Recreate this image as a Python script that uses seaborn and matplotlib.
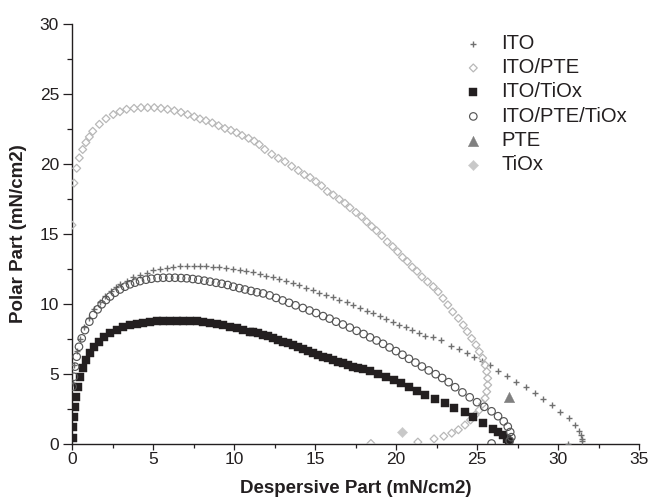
import matplotlib
matplotlib.use("Agg")
from matplotlib import pyplot as plt
from matplotlib.ticker import MultipleLocator
import seaborn as sns

sns.set_style("ticks")
plt.rcParams['font.family'] = ['Liberation Sans', 'DejaVu Sans']

# points (dispersive, polar), mN/cm2
ito = [(0.04, 4.3), (0.15, 5.6), (0.3, 6.6), (0.5, 7.5), (0.75, 8.3), (1.05, 9.0),
       (1.35, 9.6), (1.7, 10.1), (2.05, 10.55), (2.4, 10.9), (2.7, 11.15),
       (2.96, 11.37), (3.37, 11.6), (3.78, 11.86), (4.2, 12.05), (4.6, 12.2),
       (5.0, 12.38), (5.43, 12.48), (5.85, 12.57), (6.25, 12.62), (6.67, 12.67),
       (7.08, 12.7), (7.5, 12.7), (7.9, 12.7), (8.3, 12.67), (8.7, 12.64),
       (9.1, 12.58), (9.5, 12.53), (9.93, 12.48), (10.34, 12.4), (10.75, 12.34),
       (11.2, 12.22), (11.6, 12.1), (12.0, 11.98), (12.4, 11.86), (12.8, 11.73),
       (13.2, 11.62), (13.62, 11.45), (14.04, 11.3), (14.45, 11.14), (14.86, 10.97),
       (15.27, 10.78), (15.7, 10.6), (16.1, 10.44), (16.5, 10.25), (16.95, 10.08),
       (17.36, 9.9), (17.78, 9.67), (18.2, 9.48), (18.6, 9.3), (19.0, 9.1),
       (19.4, 8.9), (19.8, 8.7), (20.2, 8.5), (20.6, 8.3), (21.0, 8.12),
       (21.4, 7.9), (21.8, 7.7), (22.3, 7.58), (22.8, 7.36), (23.4, 7.0),
       (23.9, 6.75), (24.4, 6.45), (24.8, 6.17), (25.3, 5.9), (25.8, 5.58),
       (26.3, 5.17), (26.85, 4.8), (27.4, 4.4), (28.0, 4.04), (28.56, 3.64),
       (29.1, 3.2), (29.6, 2.76), (30.1, 2.26), (30.7, 1.79), (31.05, 1.3),
       (31.3, 0.9), (31.45, 0.6), (31.5, 0.35), (31.5, 0.15), (30.6, 0.0)]

ito_pte = [(0.0, 15.6), (0.12, 18.6), (0.29, 19.66), (0.45, 20.4), (0.66, 21.0),
           (0.86, 21.5), (1.07, 21.9), (1.28, 22.3), (1.69, 22.8), (2.1, 23.2),
           (2.55, 23.5), (2.96, 23.7), (3.37, 23.87), (3.83, 23.94), (4.26, 23.99),
           (4.67, 23.99), (5.08, 23.99), (5.49, 23.94), (5.9, 23.87), (6.32, 23.77),
           (6.73, 23.65), (7.14, 23.5), (7.55, 23.34), (7.9, 23.18), (8.27, 23.06),
           (8.66, 22.9), (9.05, 22.7), (9.44, 22.5), (9.81, 22.37), (10.16, 22.2),
           (10.5, 22.0), (10.9, 21.8), (11.25, 21.6), (11.56, 21.35), (11.9, 21.0),
           (12.33, 20.66), (12.74, 20.37), (13.15, 20.13), (13.56, 19.8), (13.97, 19.5),
           (14.34, 19.2), (14.7, 19.0), (15.06, 18.7), (15.41, 18.4), (15.76, 18.0),
           (16.13, 17.75), (16.5, 17.44), (16.85, 17.16), (17.16, 16.84), (17.53, 16.5),
           (17.88, 16.2), (18.19, 15.84), (18.5, 15.5), (18.8, 15.2), (19.12, 14.84),
           (19.46, 14.4), (19.8, 14.06), (20.1, 13.7), (20.4, 13.3), (20.7, 13.0),
           (21.0, 12.6), (21.3, 12.3), (21.6, 11.9), (21.95, 11.55), (22.3, 11.2),
           (22.6, 10.84), (22.9, 10.37), (23.2, 9.9), (23.5, 9.4), (23.85, 8.94),
           (24.15, 8.46), (24.4, 7.99), (24.67, 7.5), (24.94, 7.04), (25.14, 6.56),
           (25.35, 6.1), (25.5, 5.6), (25.6, 5.13), (25.66, 4.66), (25.66, 4.18),
           (25.6, 3.7), (25.5, 3.23), (25.35, 2.82), (25.14, 2.39), (24.88, 2.03),
           (24.6, 1.68), (24.26, 1.32), (23.85, 0.98), (23.44, 0.74), (22.95, 0.52),
           (22.35, 0.33), (21.35, 0.1), (18.45, 0.0)]

ito_tiox = [(0.04, 0.37), (0.08, 1.2), (0.12, 1.91), (0.19, 2.63), (0.25, 3.34),
            (0.35, 4.06), (0.49, 4.77), (0.66, 5.37), (0.86, 5.96), (1.11, 6.49),
            (1.38, 6.91), (1.69, 7.27), (2.0, 7.59), (2.35, 7.87), (2.76, 8.1),
            (3.17, 8.3), (3.58, 8.44), (3.99, 8.56), (4.4, 8.63), (4.81, 8.68),
            (5.23, 8.73), (5.64, 8.75), (6.05, 8.77), (6.46, 8.77), (6.87, 8.77),
            (7.28, 8.75), (7.7, 8.73), (8.1, 8.68), (8.52, 8.6), (8.93, 8.54),
            (9.34, 8.44), (9.75, 8.34), (10.16, 8.23), (10.57, 8.1), (10.99, 7.98),
            (11.19, 7.95), (11.5, 7.87), (11.81, 7.77), (12.12, 7.65), (12.43, 7.51),
            (12.74, 7.39), (13.05, 7.27), (13.35, 7.15), (13.66, 7.03), (13.97, 6.89),
            (14.28, 6.75), (14.59, 6.61), (14.9, 6.46), (15.21, 6.34), (15.51, 6.2),
            (15.82, 6.08), (16.13, 5.96), (16.44, 5.85), (16.75, 5.73), (17.06, 5.61),
            (17.37, 5.49), (17.67, 5.4), (17.98, 5.3), (18.4, 5.15), (18.9, 4.96),
            (19.4, 4.73), (19.9, 4.54), (20.3, 4.3), (20.8, 4.07), (21.3, 3.78),
            (21.8, 3.5), (22.4, 3.19), (23.0, 2.88), (23.6, 2.55), (24.25, 2.24),
            (24.77, 1.86), (25.4, 1.5), (25.97, 1.06), (26.3, 0.82), (26.6, 0.58),
            (26.85, 0.35), (27.0, 0.1)]

ito_pte_tiox = [(0.04, 4.06), (0.12, 4.77), (0.19, 5.49), (0.29, 6.2), (0.43, 6.91),
                (0.6, 7.51), (0.8, 8.1), (1.07, 8.7), (1.31, 9.18), (1.58, 9.58),
                (1.83, 9.94), (2.1, 10.25), (2.35, 10.5), (2.65, 10.77), (2.96, 11.0),
                (3.27, 11.2), (3.58, 11.37), (3.89, 11.49), (4.2, 11.6), (4.57, 11.7),
                (4.9, 11.77), (5.28, 11.82), (5.63, 11.84), (6.0, 11.84), (6.36, 11.84),
                (6.73, 11.82), (7.08, 11.8), (7.45, 11.75), (7.8, 11.7), (8.17, 11.63),
                (8.52, 11.56), (8.89, 11.48), (9.24, 11.41), (9.61, 11.32), (9.96, 11.2),
                (10.33, 11.1), (10.68, 11.0), (11.05, 10.9), (11.42, 10.8), (11.8, 10.72),
                (12.2, 10.58), (12.6, 10.4), (13.0, 10.22), (13.4, 10.05), (13.8, 9.87),
                (14.25, 9.68), (14.66, 9.5), (15.07, 9.32), (15.5, 9.1), (15.9, 8.92),
                (16.3, 8.7), (16.72, 8.5), (17.15, 8.28), (17.57, 8.05), (18.0, 7.82),
                (18.4, 7.58), (18.8, 7.36), (19.2, 7.12), (19.6, 6.86), (20.0, 6.6),
                (20.4, 6.34), (20.8, 6.05), (21.2, 5.78), (21.6, 5.5), (22.02, 5.22),
                (22.45, 4.95), (22.85, 4.68), (23.25, 4.38), (23.65, 4.02), (24.1, 3.65),
                (24.55, 3.3), (25.0, 2.95), (25.45, 2.62), (25.9, 2.3), (26.3, 1.95),
                (26.65, 1.58), (26.9, 1.2), (27.05, 0.82), (27.12, 0.45), (27.02, 0.2),
                (25.9, 0.0)]

pte = [(27.0, 3.32)]
tiox = [(20.4, 0.82)]

labels = ["ITO", "ITO/PTE", "ITO/TiOx", "ITO/PTE/TiOx", "PTE", "TiOx"]

INK = "#231f20"


def xs(pts):
    return [p[0] for p in pts]


def ys(pts):
    return [p[1] for p in pts]


fig = plt.figure(figsize=(6.52, 5.04), dpi=100)
ax = fig.add_axes([72 / 652, 60.5 / 504, 567 / 652, 420 / 504])

sns.scatterplot(x=xs(ito), y=ys(ito), marker="+", s=4.2 ** 2, color="#707070",
                linewidth=1.0, label=labels[0], ax=ax, zorder=3)
sns.scatterplot(x=xs(ito_pte), y=ys(ito_pte), marker="D", s=4.0 ** 2, color="#b8b8b8",
                facecolor="none", edgecolor="#b8b8b8", linewidth=0.9, label=labels[1], ax=ax, zorder=3)
sns.scatterplot(x=xs(ito_tiox), y=ys(ito_tiox), marker="s", s=5.6 ** 2, color=INK,
                edgecolor=INK, linewidth=0.3, label=labels[2], ax=ax, zorder=3)
sns.scatterplot(x=xs(ito_pte_tiox), y=ys(ito_pte_tiox), marker="o", s=5.4 ** 2, color="#555555",
                facecolor="none", edgecolor="#555555", linewidth=0.85, label=labels[3], ax=ax, zorder=3)
sns.scatterplot(x=xs(pte), y=ys(pte), marker="^", s=7.5 ** 2, color="#808080",
                edgecolor="#808080", linewidth=0.3, label=labels[4], ax=ax, zorder=3)
sns.scatterplot(x=xs(tiox), y=ys(tiox), marker="D", s=5.2 ** 2, color="#c8c8c8",
                edgecolor="#c8c8c8", linewidth=0.3, label=labels[5], ax=ax, zorder=3)

ax.set_xlim(0, 35)
ax.set_ylim(0, 30)
ax.xaxis.set_major_locator(MultipleLocator(5))
ax.xaxis.set_minor_locator(MultipleLocator(2.5))
ax.yaxis.set_major_locator(MultipleLocator(5))
ax.yaxis.set_minor_locator(MultipleLocator(2.5))
ax.tick_params(which="major", direction="out", width=0.9, labelsize=12.5,
               color=INK, labelcolor=INK)
ax.tick_params(axis="x", which="major", length=4.2, pad=2)
ax.tick_params(axis="y", which="major", length=6.3, pad=3)
ax.tick_params(axis="x", which="minor", direction="out", length=3.0, width=0.9, color=INK)
ax.tick_params(axis="y", which="minor", direction="out", length=3.4, width=0.9, color=INK)
sns.despine(ax=ax)
for side in ["left", "bottom"]:
    ax.spines[side].set_linewidth(1.0)
    ax.spines[side].set_color(INK)

ax.set_xlabel("Despersive Part (mN/cm2)", fontsize=13.5, fontweight="bold", labelpad=9,
              color=INK)
ax.set_ylabel("Polar Part (mN/cm2)", fontsize=13.5, fontweight="bold", labelpad=9,
              color=INK)

ax.legend(loc="upper left", bbox_to_anchor=(0.69, 0.975), frameon=False, fontsize=14.5,
          scatterpoints=1, handlelength=1.0, handletextpad=0.9, labelspacing=0.26,
          borderpad=0, borderaxespad=0, labelcolor=INK)

fig.savefig("out.png", dpi=100)
